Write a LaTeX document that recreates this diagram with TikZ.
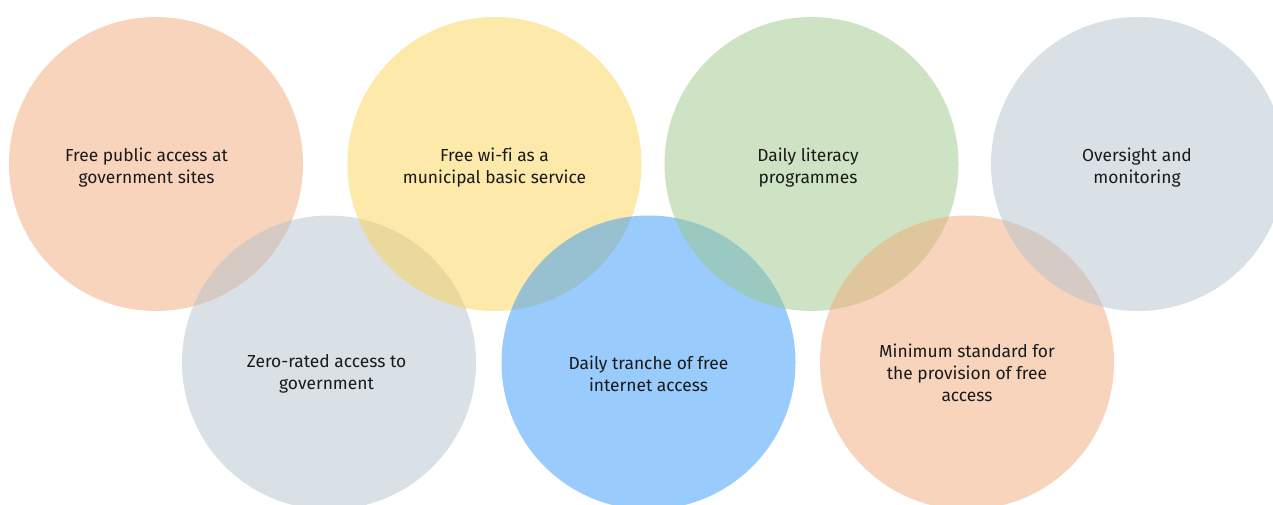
\documentclass[tikz,border=0pt]{standalone}
\usepackage{fontspec}
\setmainfont{Fira Sans}[Ligatures=NoCommon]
\definecolor{peach}{RGB}{241,169,121}
\definecolor{sand}{RGB}{251,211,83}
\definecolor{sage}{RGB}{155,199,135}
\definecolor{slate}{RGB}{179,193,205}
\definecolor{sky}{RGB}{51,151,249}
\definecolor{ink}{RGB}{26,26,26}
\begin{document}
\begin{tikzpicture}[x=1pt,y=-1pt,
  bubble/.style={circle,minimum size=294pt,inner sep=0pt,fill opacity=0.5,draw=none},
  caption/.style={align=center,text=ink,font=\fontsize{17.4}{22}\selectfont,inner sep=0pt}]
\useasboundingbox (0,0) rectangle (1273,504);
\clip (0,0) rectangle (1273,504);
% circles, drawn left to right so each overlaps the one before
\node[bubble,fill=peach] (c1) at (156,164) {};
\node[bubble,fill=slate] (c5) at (329,362.5) {};
\node[bubble,fill=sand]  (c2) at (494.5,164) {};
\node[bubble,fill=sky]   (c6) at (648.5,362.5) {};
\node[bubble,fill=sage]  (c3) at (811.5,164) {};
\node[bubble,fill=peach] (c7) at (967,362.5) {};
\node[bubble,fill=slate] (c4) at (1138,164) {};
% captions
\node[caption] (t1) at (146.5,168) {Free public access at\\government sites};
\node[caption] (t2) at (494.5,168) {Free wi-fi as a\\municipal basic service};
\node[caption] (t3) at (808,168) {Daily literacy\\programmes};
\node[caption] (t4) at (1137,168) {Oversight and\\monitoring};
\node[caption] (t5) at (326.5,374) {Zero-rated access to\\government};
\node[caption] (t6) at (648.5,374) {Daily tranche of free\\internet access};
\node[caption] (t7) at (967,373) {Minimum standard for\\the provision of free\\access};
\end{tikzpicture}
\end{document}
